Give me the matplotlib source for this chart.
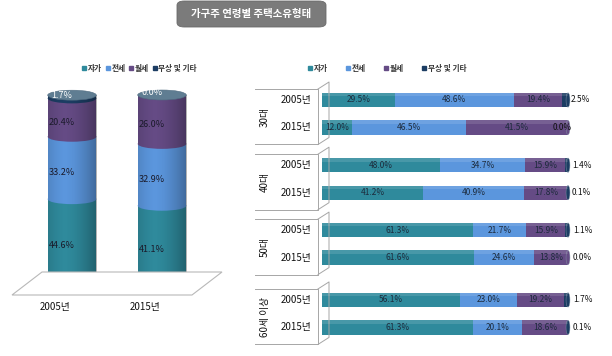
import numpy as np
import matplotlib
matplotlib.use("Agg")
import matplotlib.pyplot as plt
from matplotlib.patches import Ellipse, FancyBboxPatch, Polygon, Rectangle
from matplotlib.lines import Line2D
from matplotlib.transforms import blended_transform_factory

plt.rcParams['font.family'] = ['Noto Sans CJK KR', 'DejaVu Sans']

# ---------------- data ----------------
title = "가구주 연령별 주택소유형태"
series = ["자가", "전세", "월세", "무상 및 기타"]
colors = ["#2f8a9c", "#5b96dd", "#654b85", "#1c3d63"]

years = ["2005년", "2015년"]
total_vals = {
    "자가": [44.6, 41.1],
    "전세": [33.2, 32.9],
    "월세": [20.4, 26.0],
    "무상 및 기타": [1.7, 0.0],
}

groups = ["30대", "40대", "50대", "60세 이상"]
age_own = [29.5, 12.0, 48.0, 41.2, 61.3, 61.6, 56.1, 61.3]
age_jeon = [48.6, 46.5, 34.7, 40.9, 21.7, 24.6, 23.0, 20.1]
age_wol = [19.4, 41.5, 15.9, 17.8, 15.9, 13.8, 19.2, 18.6]
age_etc = [2.5, 0.0, 1.4, 0.1, 1.1, 0.0, 1.7, 0.1]

# ---------------- layout ----------------
W, H = 612, 356
fig = plt.figure(figsize=(W / 100, H / 100), dpi=100)
fig.patch.set_facecolor("white")


def fr(x, y):
    return x / W, 1 - y / H


def add_axes_px(x0, y0, x1, y1):
    return fig.add_axes([x0 / W, 1 - y1 / H, (x1 - x0) / W, (y1 - y0) / H])


# title box
bx0, by0 = fr(177, 27)
bx1, by1 = fr(326, 1)
fig.patches.append(FancyBboxPatch((bx0, by0), bx1 - bx0, by1 - by0,
                                  boxstyle="round,pad=0,rounding_size=0.012",
                                  transform=fig.transFigure, facecolor="#7b7b7b",
                                  edgecolor="#6a6a6a", linewidth=0.6))
fig.text(*fr(251, 14), title, color="white", fontsize=7.5, fontweight="bold",
         ha="center", va="center")

# ---------------- left: cylinders ----------------
axL = add_axes_px(27, 95, 207, 283)
axL.set_xlim(-0.5, 1.5)
axL.set_ylim(0, 100)
axL.axis("off")

# floor
floor = [fr(12, 295), fr(42, 272), fr(222, 272), fr(192, 295)]
fig.patches.append(Polygon(floor, closed=True, transform=fig.transFigure,
                           facecolor="white", edgecolor="#b8b8b8", linewidth=0.8,
                           zorder=0))

bw = 0.54
eh = 5.3
xs = np.arange(len(years))
for i, x in enumerate(xs):
    bottom = 0.0
    segs = [total_vals[s][i] for s in series]
    for k, (v, c) in enumerate(zip(segs, colors)):
        if v <= 0:
            continue
        axL.bar(x, v, bw, bottom=bottom, color=c, linewidth=0, zorder=2 + k)
        axL.add_patch(Ellipse((x, bottom), bw, eh, facecolor=c, linewidth=0,
                              zorder=2 + k, clip_on=False))
        bottom += v
    # shading overlay
    grad = np.linspace(0, 1, 64)
    shade = np.zeros((1, 64, 4))
    a = np.clip(np.abs(grad - 0.35) / 0.65, 0, 1) ** 1.6 * 0.3
    shade[0, :, 3] = a
    axL.imshow(shade, extent=(x - bw / 2, x + bw / 2, -eh / 2, bottom),
               aspect="auto", zorder=10, interpolation="bilinear")
    axL.set_xlim(-0.5, 1.5)
    axL.set_ylim(0, 100)
    # top cap
    axL.add_patch(Ellipse((x, bottom), bw, eh, facecolor="#5f7d92",
                          edgecolor="#4f6b80", linewidth=0.4, zorder=12, clip_on=False))
    # labels
    cum = 0.0
    for k, v in enumerate(segs):
        if k < 3:
            yl = cum + v / 2 - 2.5
            axL.text(x - 0.11, yl, f"{v:.1f}%", ha="center", va="center",
                     fontsize=6.5, color="#1a1a2a", zorder=20)
        else:
            axL.text(x - 0.11, cum + 1.5, f"{v:.1f}%", ha="center", va="center",
                     fontsize=6.5, color="white", zorder=20)
        cum += v
    axL.text(x - 0.19, -13, years[i], ha="center", va="center", fontsize=7,
             color="#111111", clip_on=False)

handles = [Line2D([], [], marker="s", linestyle="none", markersize=3.0,
                  markerfacecolor=c, markeredgecolor=c) for c in colors]
fig.legend(handles, series, loc="center left", bbox_to_anchor=fr(82, 68), ncol=4,
           frameon=False, prop={"size": 5.5, "weight": "bold"}, handlelength=0.6,
           handletextpad=0.15, columnspacing=0.5, borderpad=0, borderaxespad=0,
           labelcolor="#333333")

# ---------------- right: horizontal bars ----------------
unit = 27.5
ytop_px = 100
axR = add_axes_px(322, 80, 568, 345)
ylo = (80 - ytop_px) / unit
yhi = (345 - ytop_px) / unit
axR.set_xlim(0, 100)
axR.set_ylim(yhi, ylo)
axR.axis("off")

group_pos = [0, 2.37, 4.73, 7.27]
ypos = []
for g in group_pos:
    ypos += [g, g + 1.0]
ypos = np.array(ypos)
bh = 0.52

left = np.zeros(len(ypos))
vals_all = [age_own, age_jeon, age_wol, age_etc]
for k, (vals, c) in enumerate(zip(vals_all, colors)):
    vals = np.array(vals)
    axR.barh(ypos, vals, bh, left=left, color=c, linewidth=0, zorder=2)
    for j, (y, v, l) in enumerate(zip(ypos, vals, left)):
        if k < 3:
            axR.text(l + v / 2, y, f"{v:.1f}%", ha="center", va="center",
                     fontsize=6, color="#1d2b3c", zorder=5)
    left = left + vals

# end caps and tail labels
tail_x = [101.3, 97.6, 101.8, 101.3, 102.2, 102.0, 102.2, 102.0]
tail_ha = ["left", "center", "left", "left", "left", "left", "left", "left"]
for j, y in enumerate(ypos):
    segs = [vals_all[k][j] for k in range(4)]
    last = max(k for k in range(4) if segs[k] > 0)
    axR.add_patch(Ellipse((100, y), 1.6, bh, facecolor=colors[last],
                          edgecolor="#8899aa", linewidth=0.3, zorder=3, clip_on=False))
    axR.text(tail_x[j], y, f"{age_etc[j]:.1f}%", ha=tail_ha[j], va="center",
             fontsize=6, color="#111111", zorder=6, clip_on=False)
# subtle top highlight on bars
for y in ypos:
    axR.add_patch(Rectangle((0, y - bh / 2), 100, bh * 0.25, facecolor="white",
                            alpha=0.12, linewidth=0, zorder=4))

# group boxes
trans = blended_transform_factory(fig.transFigure, axR.transData)
for g, name in zip(group_pos, groups):
    top = g - 11 / unit
    bot = g + 1 + 17 / unit
    up = 7 / unit
    xa, xb, xc = 255 / W, 318 / W, 329 / W
    axR.add_line(Line2D([xa, xb, xb, xa], [top, top, bot, bot], transform=trans,
                        color="#a6a6a6", linewidth=0.7, clip_on=False))
    axR.add_line(Line2D([xb, xc, xc, xb], [top, top - up, bot - up, bot],
                        transform=trans, color="#a6a6a6", linewidth=0.7, clip_on=False))
    axR.text(265 / W, (top + bot) / 2, name, transform=trans, rotation=90,
             ha="center", va="center", fontsize=7, color="#111111", clip_on=False)
    for d, yr in enumerate(years):
        axR.text(296 / W, g + d, yr, transform=trans, ha="center", va="center",
                 fontsize=7, color="#111111", clip_on=False)

fig.legend(handles, series, loc="center left", bbox_to_anchor=fr(308, 68), ncol=4,
           frameon=False, prop={"size": 5.5, "weight": "bold"}, handlelength=0.6,
           handletextpad=0.15, columnspacing=2.4, borderpad=0, borderaxespad=0,
           labelcolor="#333333")

fig.savefig("out.png", dpi=100, facecolor="white")
